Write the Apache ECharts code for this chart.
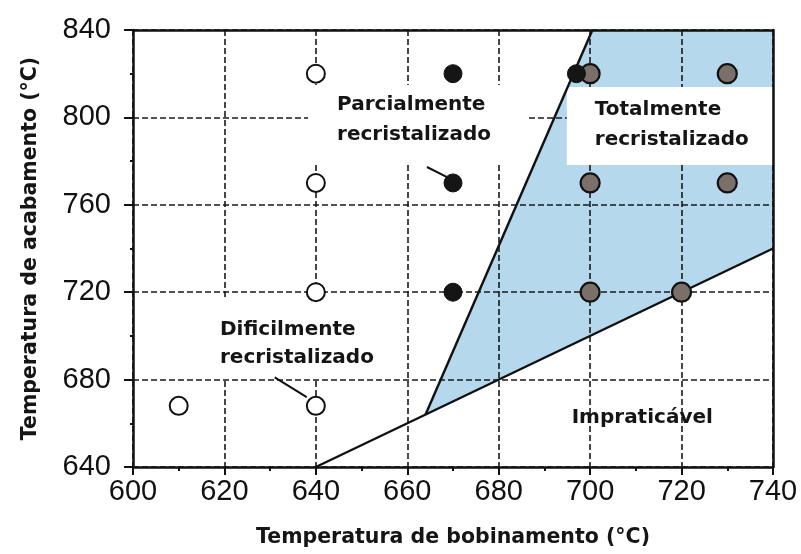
<!DOCTYPE html>
<html>
<head>
<meta charset="utf-8">
<script src="https://cdn.jsdelivr.net/npm/echarts@6/dist/echarts.min.js"></script>
<style>
  html, body { margin: 0; padding: 0; background: #fff; }
  #grafica { width: 801px; height: 554px; }
</style>
</head>
<body>
<div id="grafica"></div>
<script>
// pontos experimentais [bobinamento, acabamento]
const abertos = [[610, 668], [640, 668], [640, 720], [640, 770], [640, 820]];
const pretos = [[670, 720], [670, 770], [670, 820], [697, 820]];
const cinzas = [[700, 720], [720, 720], [700, 770], [730, 770], [700, 820], [730, 820]];

// limites das regioes
const limiteInferior = [[640, 640], [740, 740]];
const limiteSuperior = [[664, 664], [700.5, 840]];
const regiaoTotal = [[664, 664], [700.5, 840], [740, 840], [740, 740]];

// setas dos rotulos
const setaDificil = [[631, 681], [638, 672]];
const setaParcial = [[664.3, 777.3], [668.7, 772.7]];

const fonteTitulo = "DejaVu Sans";
const fonteEixo = "Liberation Sans";

const caixa = (pos, texto, extra) => ({
  value: pos,
  label: Object.assign({
    show: true,
    formatter: texto,
    position: [0, 0],
    align: "left",
    verticalAlign: "top",
    backgroundColor: "#fff",
    fontFamily: fonteTitulo,
    fontWeight: "bold",
    fontSize: 20,
    color: "#151515",
  }, extra),
});

const getOptionChart = () => {
  const grade = { show: true, lineStyle: { color: "#1a1a1a", width: 1.6, type: [6, 3] } };
  return {
    animation: false,
    grid: { left: 133, right: 28, top: 30, bottom: 87, containLabel: false, outerBoundsMode: "none" },
    xAxis: [
      {
        type: "value",
        min: 600,
        max: 740,
        interval: 20,
        z: 3,
        name: "Temperatura de bobinamento (°C)",
        nameLocation: "middle",
        nameGap: 60,
        nameTextStyle: { fontFamily: fonteTitulo, fontWeight: "bold", fontSize: 20.5, color: "#151515" },
        axisLine: { lineStyle: { color: "#111", width: 2.5 } },
        axisTick: { show: true, length: 8, lineStyle: { color: "#111", width: 2 } },
        minorTick: { show: true, splitNumber: 2, length: 4, lineStyle: { color: "#111", width: 2 } },
        axisLabel: { fontFamily: fonteEixo, fontSize: 29, color: "#111", margin: 10 },
        splitLine: grade,
      },
      {
        type: "value", position: "top", min: 600, max: 740, z: 8,
        axisLine: { show: true, onZero: false, lineStyle: { color: "#111", width: 2.5 } },
        axisTick: { show: false }, axisLabel: { show: false }, splitLine: { show: false },
      },
    ],
    yAxis: [
      {
        type: "value",
        min: 640,
        max: 840,
        interval: 40,
        z: 3,
        name: "Temperatura de acabamento (°C)",
        nameLocation: "middle",
        nameGap: 92,
        nameTextStyle: { fontFamily: fonteTitulo, fontWeight: "bold", fontSize: 20.5, color: "#151515" },
        axisLine: { show: true, lineStyle: { color: "#111", width: 2.5 } },
        axisTick: { show: true, length: 9, lineStyle: { color: "#111", width: 2 } },
        minorTick: { show: true, splitNumber: 2, length: 3, lineStyle: { color: "#111", width: 2 } },
        axisLabel: { fontFamily: fonteEixo, fontSize: 29, color: "#111", margin: 22 },
        splitLine: grade,
      },
      {
        type: "value", position: "right", min: 640, max: 840, z: 8,
        axisLine: { show: true, onZero: false, lineStyle: { color: "#111", width: 2.5 } },
        axisTick: { show: false }, axisLabel: { show: false }, splitLine: { show: false },
      },
    ],
    series: [
      {
        type: "custom",
        z: 1,
        silent: true,
        data: [[0, 0]],
        renderItem: (params, api) => ({
          type: "polygon",
          shape: { points: regiaoTotal.map((p) => api.coord(p)) },
          style: { fill: "#b5d8ec" },
        }),
      },
      {
        type: "scatter",
        z: 4,
        symbolSize: 0,
        silent: true,
        itemStyle: { opacity: 1 },
        data: [
          caixa([638.3, 814.8], "Parcialmente\nrecristalizado",
            { width: 190, height: 75, padding: [5, 0, 0, 29], lineHeight: 30 }),
          caixa([694.9, 813.9], "Totalmente\nrecristalizado",
            { width: 178, height: 70, padding: [8, 0, 0, 28], lineHeight: 30 }),
          caixa([617.5, 716.4], "Dificilmente\nrecristalizado",
            { width: 163, height: 62, padding: [16, 0, 0, 7], lineHeight: 28 }),
          caixa([711.4, 662.4], "Impraticável",
            { align: "center", verticalAlign: "middle", backgroundColor: "transparent", padding: 0 }),
        ],
      },
      {
        type: "line", z: 5, data: limiteInferior, symbol: "none", silent: true,
        lineStyle: { color: "#111", width: 2.4 },
      },
      {
        type: "line", z: 5, data: limiteSuperior, symbol: "none", silent: true,
        lineStyle: { color: "#111", width: 2.4 },
      },
      {
        type: "line", z: 5, data: setaDificil, symbol: "none", silent: true,
        lineStyle: { color: "#111", width: 2 },
      },
      {
        type: "line", z: 5, data: setaParcial, symbol: "none", silent: true,
        lineStyle: { color: "#111", width: 2 },
      },
      {
        type: "scatter", z: 6, data: abertos, symbolSize: 18,
        itemStyle: { color: "#fff", borderColor: "#111", borderWidth: 2, opacity: 1 },
      },
      {
        type: "scatter", z: 6, data: cinzas, symbolSize: 19,
        itemStyle: { color: "#7b6f6a", borderColor: "#111", borderWidth: 2.2, opacity: 1 },
      },
      {
        type: "scatter", z: 7, data: pretos, symbolSize: 18,
        itemStyle: { color: "#151515", borderColor: "#111", borderWidth: 1, opacity: 1 },
      },
    ],
  };
};

const initCharts = () => {
  const chart = echarts.init(document.querySelector("#grafica"));
  chart.setOption(getOptionChart());
};

initCharts();
</script>
</body>
</html>
